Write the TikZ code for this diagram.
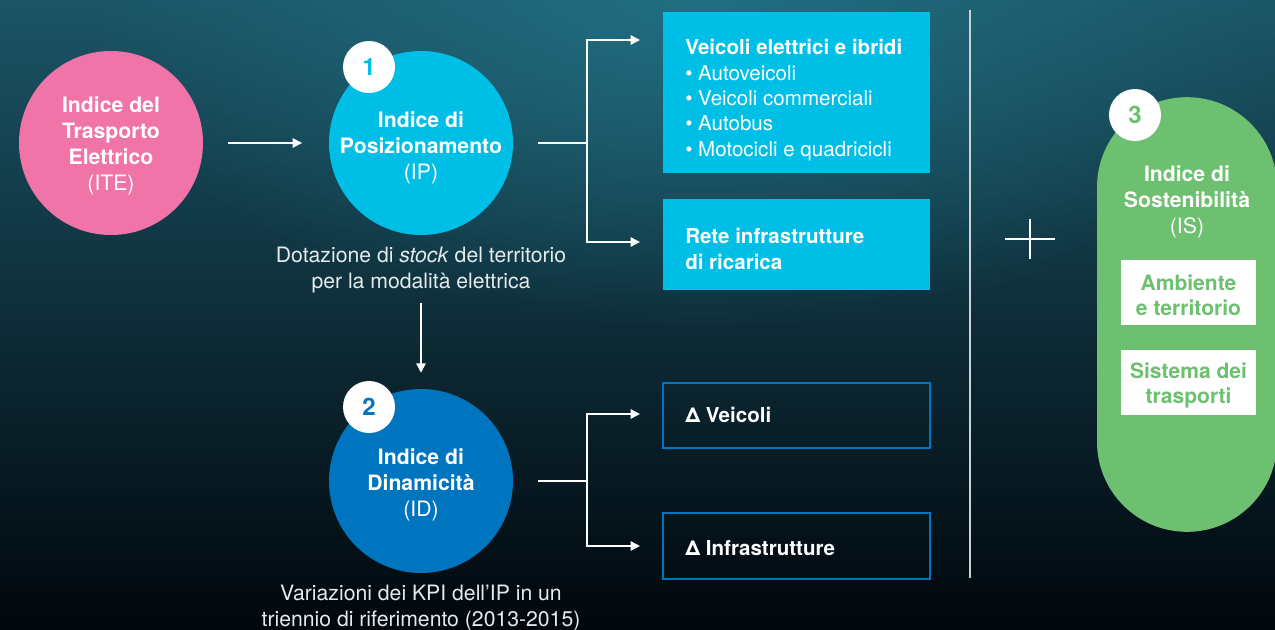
\documentclass[tikz,border=0pt]{standalone}
\usepackage{fontspec}
\setmainfont{TeX Gyre Heros}
\usetikzlibrary{arrows.meta,fadings}

\definecolor{bgtop}{HTML}{1B5566}
\definecolor{bgmid}{HTML}{113743}
\definecolor{bgbot}{HTML}{01060C}
\definecolor{bgglow}{HTML}{237488}
\definecolor{itepink}{HTML}{F074A7}
\definecolor{ipcyan}{HTML}{00BFE6}
\definecolor{idblue}{HTML}{0075BF}
\definecolor{isgreen}{HTML}{6CC070}
\definecolor{sepgray}{HTML}{C9D2D6}
\newcommand\discfont{\fontsize{15.9}{19.5}\selectfont}
\newcommand\boxfont{\fontsize{15.4}{19}\selectfont}
\newcommand\notefont{\fontsize{15.9}{19.5}\selectfont}
\tikzfading[name=glowfade,inner color=transparent!20,outer color=transparent!100]

\begin{document}
\begin{tikzpicture}[x=0.75pt,y=-0.75pt,>={Triangle[length=7pt,width=7pt]},
  every node/.style={text=white,align=center},
  disc/.style={circle,minimum size=138pt,inner sep=0pt},
  disctext/.style={font=\discfont,inner sep=0pt},
  badge/.style={circle,fill=white,minimum size=39pt,inner sep=0pt,font=\bfseries\fontsize{18}{20}\selectfont},
  note/.style={text=white!88!bgtop,font=\notefont,inner sep=0pt},
  cbox/.style={fill=ipcyan,minimum width=200pt,inner sep=0pt},
  boxtext/.style={anchor=west,align=left,inner sep=0pt,font=\boxfont},
  dbox/.style={draw=idblue,line width=1.5pt,minimum width=200pt,inner sep=0pt},
  wbox/.style={fill=white,minimum width=101pt,minimum height=48.75pt,inner sep=0pt},
  wboxtext/.style={text=isgreen,inner sep=0pt,font=\fontsize{15.8}{19}\selectfont\bfseries},
  link/.style={white,line width=1.1pt}]
  \useasboundingbox (0,0) rectangle (1275,629);
  \shade[top color=bgtop,middle color=bgmid,bottom color=bgbot] (0,0) rectangle (1275,629);
  \fill[bgglow,path fading=glowfade] (700,0) ellipse (620 and 330);

  \node[disc,fill=itepink] (ite) at (111,143) {};
  \node[disctext] (itetext) at ([yshift=-2pt]ite) {\textbf{Indice del}\\\textbf{Trasporto}\\\textbf{Elettrico}\\(ITE)};
  \node[disc,fill=ipcyan] (ip) at (421,143) {};
  \node[disctext] (iptext) at ([yshift=-3.5pt]ip) {\textbf{Indice di}\\\textbf{Posizionamento}\\(IP)};
  \node[badge,text=ipcyan] (b1) at (369,67) {1};
  \node[note] (ipnote) at (421,270) {Dotazione di \textit{stock} del territorio\\per la modalità elettrica};
  \node[disc,fill=idblue] (id) at (421,481) {};
  \node[disctext] (idtext) at ([yshift=-3pt]id) {\textbf{Indice di}\\\textbf{Dinamicità}\\(ID)};
  \node[badge,text=idblue] (b2) at (369,407) {2};
  \node[note] (idnote) at (421,608) {Variazioni dei KPI dell’IP in un\\triennio di riferimento (2013-2015)};

  \node[cbox,minimum height=121pt] (veic) at (796.5,92.5) {};
  \node[boxtext] (veictext) at (685,100) {\textbf{Veicoli elettrici e ibridi}\\• Autoveicoli\\• Veicoli commerciali\\• Autobus\\• Motocicli e quadricicli};
  \node[cbox,minimum height=68pt] (rete) at (796.5,244.5) {};
  \node[boxtext] (retetext) at (685,249) {\textbf{Rete infrastrutture}\\\textbf{di ricarica}};
  \node[dbox,minimum height=48.75pt] (dveic) at (796.5,415.5) {};
  \node[boxtext] (dveictext) at (685,415) {\textbf{Δ Veicoli}};
  \node[dbox,minimum height=49.5pt] (dinfr) at (796.5,546) {};
  \node[boxtext] (dinfrtext) at (685,548) {\textbf{Δ Infrastrutture}};

  \node[fill=isgreen,rounded corners=67.5pt,minimum width=135pt,minimum height=326pt,inner sep=0pt] (is) at (1187,314.5) {};
  \node[disctext] (istext) at (1187,201.5) {\textbf{Indice di}\\\textbf{Sostenibilità}\\(IS)};
  \node[badge,text=isgreen] (b3) at (1135,115) {3};
  \node[wbox] (amb) at (1188.5,292.5) {};
  \node[wboxtext] (ambtext) at (1188.5,295) {Ambiente\\e territorio};
  \node[wbox] (sist) at (1188.5,382) {};
  \node[wboxtext] (sisttext) at (1188.5,385.5) {Sistema dei\\trasporti};

  \draw[sepgray,line width=1.5pt] (970,10) -- (970,578);
  \draw[white,line width=1.2pt] (1005,239) -- (1055,239) (1030,219) -- (1030,259);

  \coordinate (ipfork) at (587,143);
  \coordinate (veicin) at (640,40);
  \coordinate (retein) at (640,242);
  \coordinate (idfork) at (587,481);
  \coordinate (dveicin) at (640,414);
  \coordinate (dinfrin) at (640,546);

  \draw[link,->,shorten <=18.75pt,shorten >=20pt] (ite) -- (ip);
  \draw[link,->,shorten <=51pt,shorten >=12pt] (ip.south) -- (id.north);
  \draw[link,shorten <=18.75pt] (ip.east) -- (ipfork);
  \draw[link,->] (ipfork) |- (veicin);
  \draw[link,->] (ipfork) |- (retein);
  \draw[link,shorten <=18.75pt] (id.east) -- (idfork);
  \draw[link,->] (idfork) |- (dveicin);
  \draw[link,->] (idfork) |- (dinfrin);
\end{tikzpicture}
\end{document}
